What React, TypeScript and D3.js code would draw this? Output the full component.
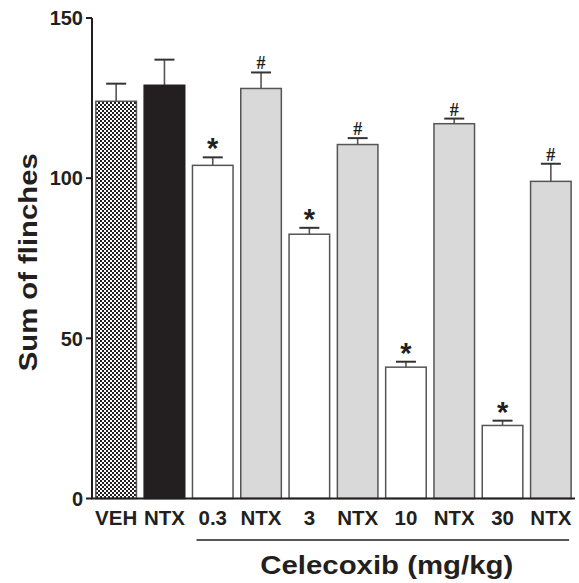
import React from "react";
import * as d3 from "d3";

// groups along the x axis
const categories = ["VEH", "NTX", "0.3", "NTX", "3", "NTX", "10", "NTX", "30", "NTX"];
const keys = categories.map((c, i) => c + "_" + i);
// mean sum of flinches and SEM
const means = [124, 129, 104, 128, 82.5, 110.5, 41, 117, 22.8, 99];
const sems = [5.5, 8, 2.5, 5, 2, 2, 1.7, 1.6, 1.5, 5.5];
// bar style per group: pattern, black, white (celecoxib), gray (celecoxib + NTX)
const kinds = ["pattern", "black", "white", "gray", "white", "gray", "white", "gray", "white", "gray"];
const marks = ["", "", "*", "#", "*", "#", "*", "#", "*", "#"];
const yTicks = [0, 50, 100, 150];

const W = 579;
const H = 583;
const font = "'Liberation Sans', Arial, Helvetica, sans-serif";

export default function App() {
  const x = d3
    .scaleBand<string>()
    .domain(keys)
    .range([92, 575])
    .paddingInner(0.16)
    .paddingOuter(0.08);
  const y = d3.scaleLinear().domain([0, 150]).range([498.5, 18]);

  const fills: Record<string, string> = {
    pattern: "url(#checker)",
    black: "#231f20",
    white: "#ffffff",
    gray: "#d9d9da",
  };

  const bw = x.bandwidth();
  // celecoxib bracket spans from the 0.3 bar to the last NTX bar
  const lineX0 = (x(keys[2]) as number) + 4;
  const lineX1 = (x(keys[9]) as number) + bw - 2;

  return (
    <svg
      width={W}
      height={H}
      style={{ position: "absolute", left: 0, top: 0, background: "#fff" }}
      fontFamily={font}
    >
      <defs>
        <pattern id="checker" width="4" height="4" patternUnits="userSpaceOnUse">
          <rect width="4" height="4" fill="#fff" />
          <rect width="2" height="2" fill="#231f20" />
          <rect x="2" y="2" width="2" height="2" fill="#231f20" />
        </pattern>
      </defs>

      {/* error bars (drawn first, bar covers lower half) */}
      {keys.map((k, i) => {
        const cx = (x(k) as number) + bw / 2;
        const top = y(means[i] + sems[i]);
        return (
          <g key={"e" + k} stroke="#555" strokeWidth={1.6}>
            <line x1={cx} x2={cx} y1={top} y2={y(means[i])} />
            <line x1={cx - 10} x2={cx + 10} y1={top} y2={top} stroke="#333" strokeWidth={2} />
          </g>
        );
      })}

      {/* bars */}
      {keys.map((k, i) => (
        <rect
          key={"b" + k}
          x={x(k)}
          y={y(means[i])}
          width={bw}
          height={y(0) - y(means[i])}
          fill={fills[kinds[i]]}
          stroke={kinds[i] === "black" ? "#231f20" : "#555"}
          strokeWidth={1.5}
        />
      ))}

      {/* significance marks */}
      {keys.map((k, i) =>
        marks[i] ? (
          <text
            key={"m" + k}
            x={(x(k) as number) + bw / 2}
            y={y(means[i] + sems[i]) + (marks[i] === "*" ? 1 : -3)}
            textAnchor="middle"
            fontSize={marks[i] === "*" ? 29 : 18}
            fontWeight="bold"
            fontFamily={marks[i] === "#" ? "'Liberation Serif', serif" : font}
            fill="#231f20"
          >
            {marks[i]}
          </text>
        ) : null
      )}

      {/* y axis */}
      <line x1={92} x2={92} y1={y(150)} y2={y(0)} stroke="#231f20" strokeWidth={2} />
      {yTicks.map((t) => (
        <g key={"t" + t}>
          <line x1={86} x2={92} y1={y(t)} y2={y(t)} stroke="#231f20" strokeWidth={2} />
          <text
            x={83}
            y={y(t)}
            dy="0.36em"
            textAnchor="end"
            fontSize={20}
            fontWeight="bold"
            fill="#231f20"
          >
            {t}
          </text>
        </g>
      ))}
      <text
        transform={`translate(37, ${y(75) + 4}) rotate(-90)`}
        textAnchor="middle"
        fontSize={25}
        fontWeight="bold"
        fill="#231f20"
        textLength={218}
        lengthAdjust="spacingAndGlyphs"
      >
        Sum of flinches
      </text>

      {/* x axis */}
      <line x1={91} x2={575} y1={y(0)} y2={y(0)} stroke="#231f20" strokeWidth={2} />
      {keys.map((k, i) => (
        <text
          key={"c" + k}
          x={(x(k) as number) + bw / 2}
          y={525}
          textAnchor="middle"
          fontSize={20.5}
          fontWeight="bold"
          fill="#231f20"
        >
          {categories[i]}
        </text>
      ))}
      <line x1={lineX0} x2={lineX1} y1={540} y2={540} stroke="#231f20" strokeWidth={1.5} />
      <text
        x={(lineX0 + lineX1) / 2 + 4}
        y={574}
        textAnchor="middle"
        fontSize={25}
        fontWeight="bold"
        fill="#231f20"
        textLength={253}
        lengthAdjust="spacingAndGlyphs"
      >
        Celecoxib (mg/kg)
      </text>
    </svg>
  );
}
